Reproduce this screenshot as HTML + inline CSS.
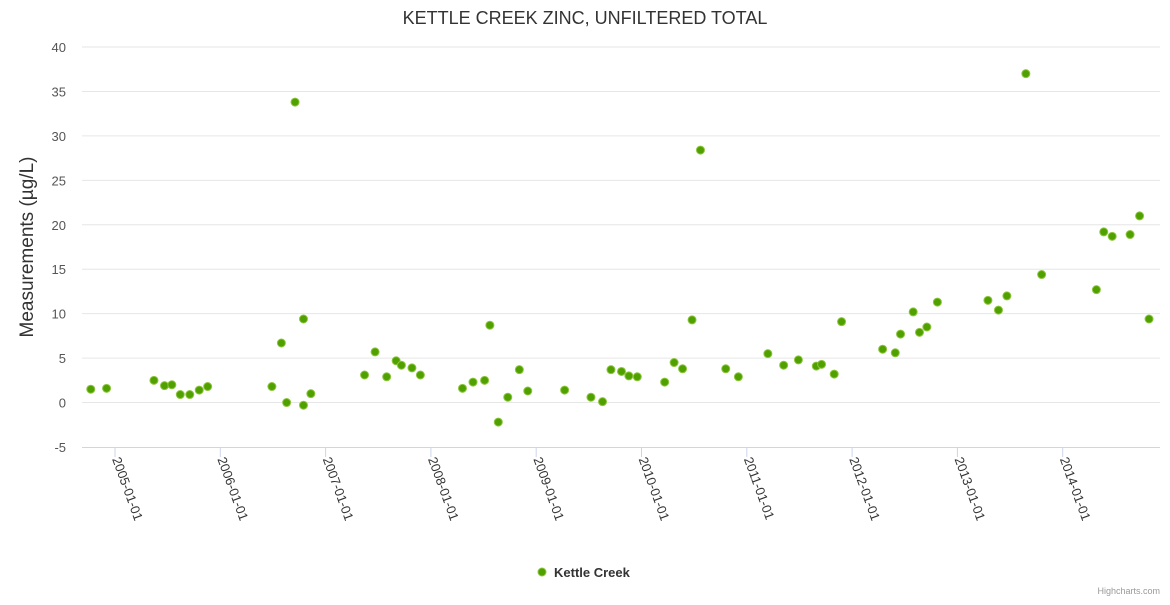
<!DOCTYPE html>
<html><head><meta charset="utf-8"><style>
body{margin:0;background:#fff;font-family:"Liberation Sans",sans-serif}
svg text{font-family:"Liberation Sans",sans-serif}
</style></head><body>
<svg id="chart" width="1170" height="600">
<text x="585" y="24" text-anchor="middle" font-size="18" fill="#333">KETTLE CREEK ZINC, UNFILTERED TOTAL</text>
<text transform="translate(33,247) rotate(-90)" text-anchor="middle" font-size="19" fill="#333">Measurements (µg/L)</text>
<g id="grid"></g><g id="xaxis"></g><g id="pts"></g>
<g>
<circle cx="542" cy="572" r="4" fill="#50a000" stroke="#8cc63f"/>
<text x="554" y="577" font-size="13" font-weight="bold" fill="#333">Kettle Creek</text>
</g>
<text x="1160" y="594" text-anchor="end" font-size="9" fill="#999">Highcharts.com</text>
</svg>
<script>
const yTicks=[-5,0,5,10,15,20,25,30,35,40];
const xTickLabels=["2005-01-01","2006-01-01","2007-01-01","2008-01-01","2009-01-01","2010-01-01","2011-01-01","2012-01-01","2013-01-01","2014-01-01"];
const xTickYears=[2005,2006,2007,2008,2009,2010,2011,2012,2013,2014];
const dates=[2004.77,2004.92,2005.37,2005.47,2005.54,2005.62,2005.71,2005.80,2005.88,2006.49,2006.58,2006.63,2006.71,2006.79,2006.79,2006.86,2007.37,2007.47,2007.58,2007.67,2007.72,2007.82,2007.90,2008.30,2008.40,2008.51,2008.56,2008.64,2008.73,2008.84,2008.92,2009.27,2009.52,2009.63,2009.71,2009.81,2009.88,2009.96,2010.22,2010.31,2010.39,2010.48,2010.56,2010.80,2010.92,2011.20,2011.35,2011.49,2011.66,2011.71,2011.83,2011.90,2012.29,2012.41,2012.46,2012.58,2012.64,2012.71,2012.81,2013.29,2013.39,2013.47,2013.65,2013.80,2014.32,2014.39,2014.47,2014.64,2014.73,2014.82];
const values=[1.5,1.6,2.5,1.9,2.0,0.9,0.9,1.4,1.8,1.8,6.7,0,33.8,-0.3,9.4,1.0,3.1,5.7,2.9,4.7,4.2,3.9,3.1,1.6,2.3,2.5,8.7,-2.2,0.6,3.7,1.3,1.4,0.6,0.1,3.7,3.5,3.0,2.9,2.3,4.5,3.8,9.3,28.4,3.8,2.9,5.5,4.2,4.8,4.1,4.3,3.2,9.1,6.0,5.6,7.7,10.2,7.9,8.5,11.3,11.5,10.4,12.0,37.0,14.4,12.7,19.2,18.7,18.9,21.0,9.4];
const NS="http://www.w3.org/2000/svg";
const X0=82,X1=1160,Ytop=47,Ybot=447;
function xs(v){return 115+(v-2005)*105.3;}
function ys(v){return Ybot-(v+5)/45*(Ybot-Ytop);}
function mk(t,a,p){const e=document.createElementNS(NS,t);for(const k in a)e.setAttribute(k,a[k]);p.appendChild(e);return e;}
const g=document.getElementById('grid'),xa=document.getElementById('xaxis'),pg=document.getElementById('pts');
yTicks.forEach(t=>{
  const y=ys(t);
  if(t!==-5){const l=mk('line',{x1:X0,x2:X1,y1:y,y2:y,stroke:'#e6e6e6'},g);
  
  }
  const tx=mk('text',{x:66,y:y+5,'text-anchor':'end','font-size':13,fill:'#555'},g);
  tx.textContent=t;
  
  
});
const ax=mk('line',{x1:X0,x2:X1,y1:Ybot+0.5,y2:Ybot+0.5,stroke:'#ccd6eb'},xa);


xTickYears.forEach((yr,i)=>{
  const x=xs(yr);
  mk('line',{x1:x,x2:x,y1:Ybot,y2:Ybot+10,stroke:'#ccd6eb'},xa);
  const tx=mk('text',{transform:`translate(${x-3},${Ybot+12}) rotate(70)`,'font-size':13,fill:'#333'},xa);
  tx.textContent=xTickLabels[i];
  
  
});
dates.forEach((d,i)=>{
  const c=mk('circle',{cx:xs(d),cy:ys(values[i]),r:4,fill:'#50a000',stroke:'#8cc63f','stroke-width':1},pg);
  
  
});
</script>
</body></html>
